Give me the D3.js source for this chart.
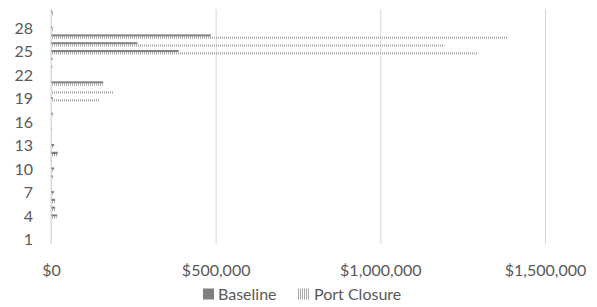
<!DOCTYPE html>
<html>
<head>
<meta charset="utf-8">
<script src="https://cdn.jsdelivr.net/npm/d3@7"></script>
<style>
  body { margin: 0; background: #fff; }
  text { font-family: Lato, "Open Sans", sans-serif; fill: #595959; }
</style>
</head>
<body>
<svg id="chart" width="597" height="307"></svg>
<script>
// categories (bottom to top) and series values
var categories = [1, 2, 3, 4, 5, 6, 7, 8, 9, 10, 11, 12, 13, 14, 15,
                  16, 17, 18, 19, 20, 21, 22, 23, 24, 25, 26, 27, 28, 29, 30];
var baseline = [0, 0, 0, 17000, 11000, 11000, 7000, 0, 4000, 8000, 1000, 19000, 8000, 0, 1000,
                0, 4000, 0, 4000, 0, 157000, 0, 2000, 3000, 386000, 261000, 484000, 3000, 0, 3000];
var portClosure = [0, 0, 0, 15000, 12000, 10000, 6000, 0, 3000, 5000, 2000, 18000, 6000, 0, 1000,
                   0, 3000, 0, 146000, 188000, 155000, 0, 2000, 2000, 1296000, 1193000, 1385000, 6000, 0, 6000];
var xTicks = [0, 500000, 1000000, 1500000];
var yTickLabels = [1, 4, 7, 10, 13, 16, 19, 22, 25, 28];
var seriesNames = ["Baseline", "Port Closure"];

var svg = d3.select("#chart");
var plotLeft = 51, plotRight = 545, plotTop = 9.2, plotBottom = 244;

var x = d3.scaleLinear().domain([0, 1500000]).range([plotLeft, plotRight]);
var y = d3.scaleBand().domain(categories).range([plotBottom, plotTop])
    .paddingInner(0.44).paddingOuter(0.22);
var sub = d3.scaleBand().domain(seriesNames).range([0, y.bandwidth()]);

// hatch pattern for Port Closure
var defs = svg.append("defs");
var pat = defs.append("pattern")
    .attr("id", "vhatch")
    .attr("patternUnits", "userSpaceOnUse")
    .attr("width", 2).attr("height", 4);
pat.append("rect").attr("width", 2).attr("height", 4).attr("fill", "#fff");
pat.append("rect").attr("width", 1).attr("height", 4).attr("fill", "#a6a6a6");

// gridlines + x labels
var xAxis = svg.append("g")
    .attr("transform", `translate(0,${plotBottom})`)
    .call(d3.axisBottom(x).tickValues(xTicks).tickFormat(d3.format("$,"))
        .tickSize(-(plotBottom - plotTop)).tickPadding(21));
xAxis.select(".domain").remove();
xAxis.selectAll("line").attr("stroke", "#d9d9d9");
xAxis.selectAll("text").style("font-size", "16px").attr("fill", "#595959");

// y axis
var yAxis = svg.append("g")
    .attr("transform", `translate(${plotLeft},0)`)
    .call(d3.axisLeft(y).tickValues(yTickLabels).tickSize(0).tickPadding(18));
yAxis.select(".domain").attr("stroke", "#d9d9d9").attr("d", `M0,${plotTop}V${plotBottom}`);
yAxis.selectAll("text").style("font-size", "16px").attr("fill", "#595959");

// bars
var rows = categories.map(function(c, i){
    return {cat: c, values: [
        {key: "Baseline", v: baseline[i]},
        {key: "Port Closure", v: portClosure[i]}
    ]};
});

var groups = svg.append("g").selectAll("g")
    .data(rows)
    .enter()
    .append("g")
    .attr("transform", function(d){ return `translate(0,${y(d.cat)})`; });

groups.selectAll("rect")
    .data(function(d){ return d.values; })
    .enter()
    .append("rect")
    .attr("x", x(0) + 0.5)
    .attr("y", function(d){ return sub(d.key); })
    .attr("height", sub.bandwidth())
    .attr("width", function(d){ return Math.max(0, x(d.v) - x(0)); })
    .attr("fill", function(d){ return d.key === "Baseline" ? "#7f7f7f" : "url(#vhatch)"; });

// legend
var legend = svg.append("g").attr("transform", "translate(0,294)");
legend.append("rect").attr("x", 203).attr("y", -5.5).attr("width", 11).attr("height", 11).attr("fill", "#7f7f7f");
legend.append("text").attr("x", 218).attr("y", 0).attr("dy", "0.35em")
    .style("font-size", "16px").text("Baseline");
legend.append("rect").attr("x", 298).attr("y", -5.5).attr("width", 11).attr("height", 11).attr("fill", "url(#vhatch)");
legend.append("text").attr("x", 314).attr("y", 0).attr("dy", "0.35em")
    .style("font-size", "16px").text("Port Closure");
</script>
</body>
</html>
